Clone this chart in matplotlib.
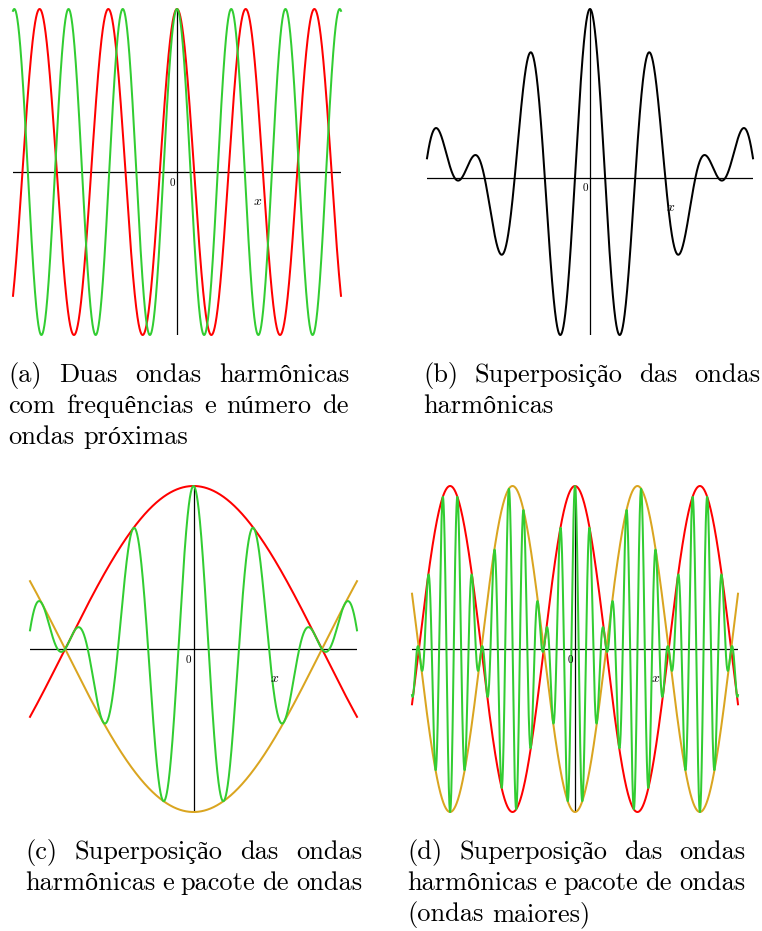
import numpy as np
import matplotlib
matplotlib.use("Agg")
import matplotlib.pyplot as plt

W, H, DPI = 762, 931, 100

# two harmonic components, x measured in units of the panel half-width
k_waves = [15.0, 19.0]
half_width = {"a": 1.0, "b": 1.0, "c": 1.0, "d": 4.1}

RED = "#ff0000"
GREEN = "#32cd32"
GOLD = "#daa520"
FS = 19.0

# panel boxes in pixels: left, top, right, bottom
boxes = {
    "a": (13, 9, 341, 335),
    "b": (427, 9, 753, 335),
    "c": (30, 486, 357, 812),
    "d": (412, 486, 738, 812),
}

# caption lines: (text, justified)
captions = {
    "a": [("(a) Duas ondas harmônicas", True),
          ("com frequências e número de", True),
          ("ondas próximas", False)],
    "b": [("(b) Superposição das ondas", True),
          ("harmônicas", False)],
    "c": [("(c) Superposição das ondas", True),
          ("harmônicas e pacote de ondas", True)],
    "d": [("(d) Superposição das ondas", True),
          ("harmônicas e pacote de ondas", True),
          ("(ondas maiores)", False)],
}
caption_x = {"a": (8, 349), "b": (423, 760), "c": (25, 362), "d": (407, 745)}
caption_y = {"a": 382, "b": 382, "c": 859, "d": 859}
LINE_GAP = 31

plt.rcParams["font.family"] = ["cmr10", "Liberation Serif"]
plt.rcParams["mathtext.fontset"] = "cm"
plt.rcParams["axes.unicode_minus"] = False

fig = plt.figure(figsize=(W / DPI, H / DPI), dpi=DPI)


def px_axes(box):
    l, t, r, b = box
    return fig.add_axes([l / W, 1 - b / H, (r - l) / W, (b - t) / H])


def decorate(ax):
    ax.axhline(0, color="black", lw=0.9, zorder=1)
    ax.axvline(0, color="black", lw=0.9, zorder=1)
    ax.annotate("0", (0, 0), xytext=(-5, -11), textcoords="offset pixels",
                ha="center", va="center", fontsize=8)
    ax.annotate("$x$", (0, 0), xytext=(81, -30), textcoords="offset pixels",
                ha="center", va="center", fontsize=10)
    ax.axis("off")


def curve(ax, x, y, color):
    ax.plot(x, y, color=color, lw=1.45, clip_on=False, zorder=3)


k1, k2 = k_waves
kbar, dk = (k1 + k2) / 2, (k2 - k1) / 2

# (a) the two harmonic waves
L = half_width["a"]
x = np.linspace(-L, L, 3000)
ax = px_axes(boxes["a"])
curve(ax, x, np.cos(k1 * x), RED)
curve(ax, x, np.cos(k2 * x), GREEN)
ax.set_xlim(-L, L)
ax.set_ylim(-1, 1)
decorate(ax)

# (b) their sum
L = half_width["b"]
x = np.linspace(-L, L, 3000)
s = np.cos(k1 * x) + np.cos(k2 * x)
ax = px_axes(boxes["b"])
curve(ax, x, s, "black")
ax.set_xlim(-L, L)
ax.set_ylim(s.min(), s.max())
decorate(ax)

# (c), (d) sum with the envelope +/- 2 cos(dk x)
for key in ("c", "d"):
    L = half_width[key]
    x = np.linspace(-L, L, 6000)
    s = np.cos(k1 * x) + np.cos(k2 * x)
    env = 2 * np.cos(dk * x)
    ax = px_axes(boxes[key])
    curve(ax, x, env, RED)
    curve(ax, x, -env, GOLD)
    curve(ax, x, s, GREEN)
    ax.set_xlim(-L, L)
    ax.set_ylim(-2, 2)
    decorate(ax)

# justified captions
renderer = fig.canvas.get_renderer()
for key, lines in captions.items():
    x0, x1 = caption_x[key]
    for i, (text, justify) in enumerate(lines):
        y = caption_y[key] + i * LINE_GAP
        words = text.split()
        objs = [fig.text(0, 1 - y / H, w, fontsize=FS, va="baseline", ha="left")
                for w in words]
        widths = [o.get_window_extent(renderer).width for o in objs]
        if justify and len(words) > 1:
            gap = (x1 - x0 - sum(widths)) / (len(words) - 1)
        else:
            gap = FS * DPI / 72 * 0.333
        xp = x0
        for o, wd in zip(objs, widths):
            o.set_x(xp / W)
            xp += wd + gap

fig.savefig("out.png", dpi=DPI)
